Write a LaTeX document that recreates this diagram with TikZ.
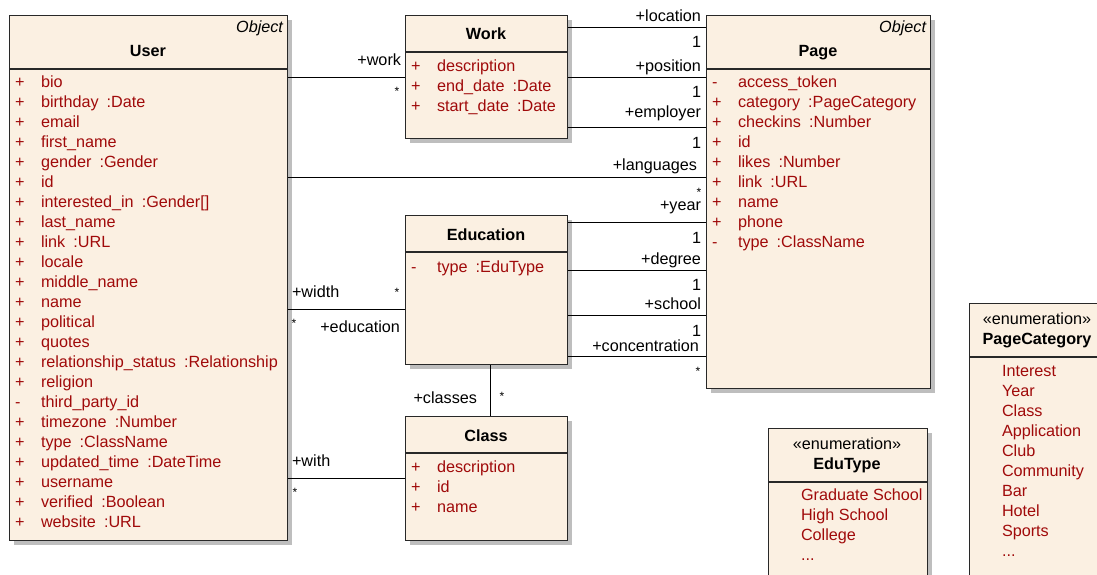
\documentclass[tikz,border=0pt]{standalone}
\usepackage{fontspec}
\setmainfont{Liberation Sans}
\usetikzlibrary{shadows}
\definecolor{boxfill}{RGB}{251,240,226}
\definecolor{boxline}{RGB}{40,40,40}
\definecolor{attrred}{RGB}{160,10,10}
\definecolor{shadowgray}{RGB}{190,190,190}
\tikzset{
 umlbox/.style={draw=boxline, fill=boxfill, line width=1.2pt, inner sep=0pt, anchor=north west,
   drop shadow={fill=shadowgray, opacity=1, shadow xshift=4pt, shadow yshift=-4pt}},
 sepline/.style={draw=boxline, line width=1.2pt},
 conn/.style={draw=black, line width=1pt},
 txt/.style={inner sep=0pt, outer sep=0pt, font=\fontsize{16.2}{19}\selectfont, text=black},
 attr/.style={txt, text=attrred, anchor=base west},
 title/.style={txt, font=\fontsize{16.2}{19}\selectfont\bfseries, anchor=base},
 stereo/.style={txt, font=\fontsize{16.2}{19}\selectfont\itshape, anchor=base east},
 enumst/.style={txt, anchor=base},
 lblr/.style={txt, anchor=base east},
 lbll/.style={txt, anchor=base west},
 mult/.style={txt, font=\fontsize{12}{14}\selectfont, anchor=base},
}
\begin{document}
\begin{tikzpicture}[x=1pt,y=-1pt]
\useasboundingbox (0,0) rectangle (1097,574);
\clip (0,0) rectangle (1097,574);
\fill[white] (0,0) rectangle (1097,574);

% ---------- boxes ----------
\node[umlbox, minimum width=278pt, minimum height=525pt] (user) at (9,15) {};
\node[umlbox, minimum width=162pt, minimum height=123pt] (work) at (405,15) {};
\node[umlbox, minimum width=224pt, minimum height=373pt] (page) at (706,15) {};
\node[umlbox, minimum width=162pt, minimum height=149pt] (edu) at (405,215) {};
\node[umlbox, minimum width=162pt, minimum height=124pt] (class) at (405,416) {};
\node[umlbox, minimum width=159pt, minimum height=200pt] (edutype) at (768,428) {};
\node[umlbox, minimum width=200pt, minimum height=400pt] (pagecat) at (969,303) {};

\draw[sepline] (user.west |- 0,69) -- (user.east |- 0,69);
\draw[sepline] (work.west |- 0,52) -- (work.east |- 0,52);
\draw[sepline] (page.west |- 0,69) -- (page.east |- 0,69);
\draw[sepline] (edu.west |- 0,252) -- (edu.east |- 0,252);
\draw[sepline] (class.west |- 0,453) -- (class.east |- 0,453);
\draw[sepline] (edutype.west |- 0,482) -- (edutype.east |- 0,482);
\draw[sepline] (pagecat.west |- 0,357) -- (pagecat.east |- 0,357);

% ---------- titles ----------
\node[stereo] (userobj) at (283,32) {Object};
\node[title] (usertitle) at (148,56) {User};
\node[title] (worktitle) at (486,39) {Work};
\node[stereo] (pageobj) at (926,32) {Object};
\node[title] (pagetitle) at (818,56) {Page};
\node[title] (edutitle) at (486,240) {Education};
\node[title] (classtitle) at (486,441) {Class};
\node[enumst] (edust) at (847,449) {«enumeration»};
\node[title] (edutypetitle) at (847,469) {EduType};
\node[enumst] (pcst) at (1037,324) {«enumeration»};
\node[title] (pctitle) at (1037,344) {PageCategory};

% ---------- attributes ----------
\foreach [count=\i from 0] \vis/\nam in {+/bio, +/birthday\enspace:Date, +/email, +/first\_name,
  +/gender\enspace:Gender, +/id, +/interested\_in\enspace:Gender[], +/last\_name, +/link\enspace:URL,
  +/locale, +/middle\_name, +/name, +/political, +/quotes,
  +/relationship\_status\enspace:Relationship, +/religion, -/third\_party\_id,
  +/timezone\enspace:Number, +/type\enspace:ClassName, +/updated\_time\enspace:DateTime,
  +/username, +/verified\enspace:Boolean, +/website\enspace:URL} {
  \node[attr] (uv\i) at (15,87+20*\i) {\vis};
  \node[attr] (un\i) at (41,87+20*\i) {\nam};
}
\foreach [count=\i from 0] \vis/\nam in {+/description, +/end\_date\enspace:Date, +/start\_date\enspace:Date} {
  \node[attr] (wv\i) at (411,71.5+20*\i) {\vis};
  \node[attr] (wn\i) at (437,71.5+20*\i) {\nam};
}
\foreach [count=\i from 0] \vis/\nam in {-/access\_token, +/category\enspace:PageCategory,
  +/checkins\enspace:Number, +/id, +/likes\enspace:Number, +/link\enspace:URL, +/name, +/phone,
  -/type\enspace:ClassName} {
  \node[attr] (pv\i) at (712,87+20*\i) {\vis};
  \node[attr] (pn\i) at (738,87+20*\i) {\nam};
}
\node[attr] (ev0) at (411,272) {-};
\node[attr] (en0) at (437,272) {type\enspace:EduType};
\foreach [count=\i from 0] \vis/\nam in {+/description, +/id, +/name} {
  \node[attr] (cv\i) at (411,472+20*\i) {\vis};
  \node[attr] (cn\i) at (437,472+20*\i) {\nam};
}
\foreach [count=\i from 0] \nam in {Graduate School, High School, College} {
  \node[attr] (et\i) at (801,500+20*\i) {\nam};
}
\node[attr] (et3) at (801,560) {...};
\foreach [count=\i from 0] \nam in {Interest, Year, Class, Application, Club, Community, Bar, Hotel, Sports} {
  \node[attr] (pc\i) at (1002,376+20*\i) {\nam};
}
\node[attr] (pc9) at (1002,556) {...};

% ---------- connectors ----------
\draw[conn] (user.east |- 0,77) -- (work.west |- 0,77);
\draw[conn] (work.east |- 0,27) -- (page.west |- 0,27);
\draw[conn] (work.east |- 0,77) -- (page.west |- 0,77);
\draw[conn] (work.east |- 0,127) -- (page.west |- 0,127);
\draw[conn] (user.east |- 0,177) -- (page.west |- 0,177);
\draw[conn] (edu.east |- 0,222) -- (page.west |- 0,222);
\draw[conn] (edu.east |- 0,270) -- (page.west |- 0,270);
\draw[conn] (edu.east |- 0,315) -- (page.west |- 0,315);
\draw[conn] (edu.east |- 0,356) -- (page.west |- 0,356);
\draw[conn] (user.east |- 0,309) -- (edu.west |- 0,309);
\draw[conn] (edu.south -| 490,0) -- (class.north -| 490,0);
\draw[conn] (user.east |- 0,478) -- (class.west |- 0,478);

% ---------- connector labels ----------
\node[lblr] (lwork) at (401,65) {+work};
\node[mult] (mwork) at (397,95) {*};
\node[lblr] (lloc) at (701,21) {+location};
\node[lblr] (mloc) at (701,47) {1};
\node[lblr] (lpos) at (701,71) {+position};
\node[lblr] (mpos) at (701,97) {1};
\node[lblr] (lemp) at (701,117) {+employer};
\node[lblr] (memp) at (701,148) {1};
\node[lblr] (llang) at (697,170) {+languages};
\node[mult] (mlang) at (699,196) {*};
\node[lblr] (lyear) at (701,210) {+year};
\node[lblr] (myear) at (701,243) {1};
\node[lblr] (ldeg) at (701,264) {+degree};
\node[lblr] (mdeg) at (701,290) {1};
\node[lblr] (lsch) at (701,309) {+school};
\node[lblr] (msch) at (701,336) {1};
\node[lblr] (lconc) at (699,351) {+concentration};
\node[mult] (mconc) at (698,375) {*};
\node[lbll] (lwidth) at (292,297) {+width};
\node[mult] (mwidth) at (294,327) {*};
\node[lblr] (ledu) at (400,332) {+education};
\node[mult] (medu) at (397,296) {*};
\node[lblr] (lcls) at (477,403) {+classes};
\node[mult] (mcls) at (502,400) {*};
\node[lbll] (lwith) at (292,466) {+with};
\node[mult] (mwith) at (295,496) {*};
\end{tikzpicture}
\end{document}
